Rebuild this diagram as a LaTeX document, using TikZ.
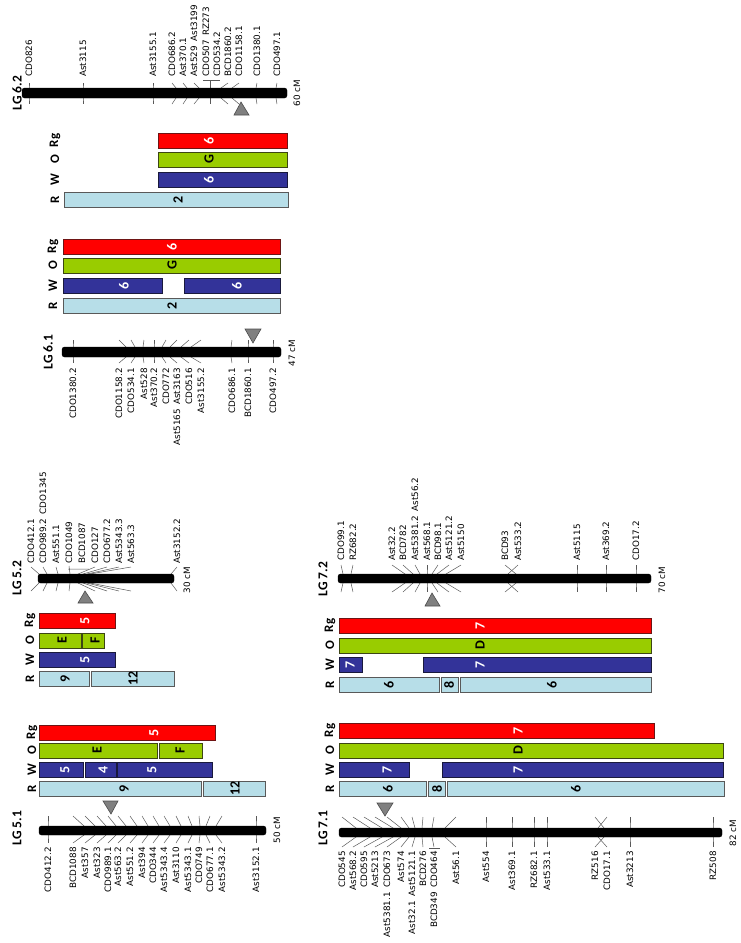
\documentclass[tikz,border=0pt]{standalone}
\usepackage{fontspec}
\setmainfont{DejaVu Sans}
\newfontfamily\carl{Carlito}
\definecolor{rgred}{HTML}{FF0000}
\definecolor{ogreen}{HTML}{99CC00}
\definecolor{wblue}{HTML}{333399}
\definecolor{rblue}{HTML}{B7DEE8}
\tikzset{
 mlab/.style={font=\fontsize{8.8}{10}\selectfont, rotate=90, inner sep=0pt},
 lglab/.style={font=\carl\bfseries\fontsize{13.5}{15}\selectfont, rotate=90, inner sep=0pt},
 rowlab/.style={font=\carl\bfseries\fontsize{13}{14}\selectfont, rotate=90, inner sep=0pt},
 barlab/.style={font=\carl\bfseries\fontsize{14}{15}\selectfont, rotate=90, inner sep=0pt},
 tick/.style={draw=black!65, line width=0.5pt},
 chromo/.style={fill=black, rounded corners=2.5pt},
 rgbar/.style={fill=rgred, draw={rgb,255:red,110;green,20;blue,20}, line width=0.7pt},
 rgbartxt/.style={text=white},
 obar/.style={fill=ogreen, draw={rgb,255:red,60;green,70;blue,20}, line width=0.7pt},
 obartxt/.style={text=black},
 wbar/.style={fill=wblue, draw={rgb,255:red,25;green,25;blue,60}, line width=0.7pt},
 wbartxt/.style={text=white},
 rbar/.style={fill=rblue, draw=black!65, line width=0.7pt},
 rbartxt/.style={text=black},
 cen/.style={fill=gray, draw=black!70, line width=0.6pt},
}
\newcommand\bx[7]{%
  \draw[#1] (#2,#4) rectangle (#3,#4+15);
  \node[barlab,#1txt] (#7) at (#5,#4+7.5) {#6};}
\begin{document}
\begin{tikzpicture}[x=1pt,y=-1pt]
\useasboundingbox (0,0) rectangle (740,943);

%% ================= LG 6.2 =================
\node[lglab] (lg62) at (17,93) {LG 6.2};
\foreach \lx/\px/\t [count=\i] in {29/29/CDO826, 83/83/Ast3115, 153/153/Ast3155.1,
   172/176/CDO686.2, 183/187/Ast370.1, 194/199/{Ast529\hspace{.5em}Ast3199},
   228/221/BCD1860.2, 239/232/CDO1158.1, 257/256/CDO1380.1, 277/276/CDO497.1}{
  \draw[tick] (\lx,83) -- (\px,88) -- (\px,98) -- (\lx,104);
  \node[mlab,anchor=west] (m62-\i) at (\lx,77) {\t};}
\node[mlab,anchor=west] (m62-a) at (206,77) {CDO507\hspace{.5em}RZ273};
\node[mlab,anchor=west] (m62-b) at (217,77) {CDO534.2};
\draw[tick] (203,80) -- (220,80) (210,80) -- (210,104);
\draw[chromo] (22,88) rectangle (287,98);
\node[mlab] (cm62) at (297,93) {60 cM};
\draw[cen] (241,102) -- (234,115) -- (249,115) -- cycle;

\foreach \t/\y [count=\i] in {Rg/140.5, O/159.5, W/179.5, R/199.5}
  \node[rowlab] (r62-\i) at (55,\y) {\t};
\bx{rgbar}{158}{287}{133}{209}{6}{b62rg}
\bx{obar}{158}{287}{152}{209}{G}{b62o}
\bx{wbar}{158}{287}{172}{209}{6}{b62w}
\bx{rbar}{64}{288}{192}{178}{2}{b62r}

%% ================= LG 6.1 =================
\foreach \t/\y [count=\i] in {Rg/246.5, O/265.5, W/285.5, R/305.5}
  \node[rowlab] (r61-\i) at (53,\y) {\t};
\bx{rgbar}{63}{280}{239}{172}{6}{b61rg}
\bx{obar}{63}{280}{258}{172}{G}{b61o}
\bx{wbar}{63}{162}{278}{124}{6}{b61w1}
\bx{wbar}{184}{280}{278}{237}{6}{b61w2}
\bx{rbar}{63}{280}{298}{172}{2}{b61r}

\node[lglab] (lg61) at (48,352) {LG 6.1};
\foreach \lx/\px/\t [count=\i] in {73/73/CDO1380.2, 119/126/CDO1158.2, 131/135/CDO534.1,
   144/143/Ast528, 154/154/Ast370.2, 166/162/CDO772, 177/170/{Ast5165\hspace{.5em}Ast3163},
   189/181/CDO516, 201/191/Ast3155.2, 232/231/CDO686.1, 248/248/BCD1860.1, 273/273/CDO497.2}{
  \draw[tick] (\lx,340) -- (\px,347) -- (\px,357) -- (\lx,363);
  \node[mlab,anchor=east] (m61-\i) at (\lx,368) {\t};}
\draw[chromo] (62,347) rectangle (281,357);
\node[mlab] (cm61) at (292,353) {47 cM};
\draw[cen] (253,343) -- (245,329) -- (261,329) -- cycle;

%% ================= LG 5.2 =================
\node[lglab] (lg52) at (17,578) {LG 5.2};
\foreach \lx/\px/\t [count=\i] in {31/39/CDO412.1, 43/47/{CDO989.2\hspace{.5em}CDO1345},
   56/58/Ast551.1, 95/78/CDO127, 107/83/CDO677.2, 119/87/Ast5343.3,
   131/90/Ast563.3, 177/171/Ast3152.2}{
  \draw[tick] (\lx,567) -- (\px,574) -- (\px,583) -- (\lx,591);
  \node[mlab,anchor=west] (m52-\i) at (\lx,564) {\t};}
\node[mlab,anchor=west] (m52-a) at (69,564) {CDO1049};
\node[mlab,anchor=west] (m52-b) at (82,564) {BCD1087};
\draw[tick] (68,569) -- (89,569) (69,566) -- (70,574) -- (70,583) -- (69,591);
\draw[chromo] (38,574) rectangle (174,583);
\node[mlab] (cm52) at (187,580) {30 cM};
\draw[cen] (85,591) -- (78,603) -- (93,603) -- cycle;

\foreach \t/\y [count=\i] in {Rg/620.5, O/640.5, W/659.5, R/678.5}
  \node[rowlab] (r52-\i) at (30,\y) {\t};
\bx{rgbar}{39}{115}{613}{85}{5}{b52rg}
\bx{obar}{39}{81}{633}{62}{E}{b52o1}
\bx{obar}{82}{104}{633}{95}{F}{b52o2}
\bx{wbar}{39}{115}{652}{85}{5}{b52w}
\bx{rbar}{39}{89}{671}{65}{9}{b52r1}
\bx{rbar}{91}{174}{671}{133}{12}{b52r2}

%% ================= LG 5.1 =================
\foreach \t/\y [count=\i] in {Rg/732.5, O/750.5, W/769.5, R/788.5}
  \node[rowlab] (r51-\i) at (32,\y) {\t};
\bx{rgbar}{39}{215}{725}{154}{5}{b51rg}
\bx{obar}{39}{157}{743}{97}{E}{b51o1}
\bx{obar}{159}{202}{743}{180}{F}{b51o2}
\bx{wbar}{39}{83}{762}{65}{5}{b51w1}
\bx{wbar}{85}{116}{762}{103}{4}{b51w2}
\bx{wbar}{117}{212}{762}{152}{5}{b51w3}
\bx{rbar}{39}{201}{781}{124}{9}{b51r1}
\bx{rbar}{203}{265}{781}{235}{12}{b51r2}

\node[lglab] (lg51) at (17,828) {LG 5.1};
\foreach \lx/\px/\t [count=\i] in {48/48/CDO412.2, 73/84/BCD1088, 85/95/Ast357, 97/106/Ast323,
   108/116/CDO989.1, 118/126/Ast563.2, 130/137/Ast551.2, 142/148/Ast394, 153/159/CDO344,
   164/170/Ast5343.4, 176/181/Ast3110, 188/192/Ast5343.1, 199/200/CDO749,
   210/206/CDO677.1, 222/216/Ast5343.2, 256/256/Ast3152.1}{
  \draw[tick] (\lx,816) -- (\px,826) -- (\px,835) -- (\lx,843);
  \node[mlab,anchor=east] (m51-\i) at (\lx,847) {\t};}
\draw[chromo] (39,826) rectangle (266,835);
\node[mlab] (cm51) at (277,830) {50 cM};
\draw[cen] (111,814) -- (103,801) -- (118,801) -- cycle;

%% ================= LG 7.2 =================
\node[lglab] (lg72) at (323,579) {LG 7.2};
\foreach \lx/\px/\t [count=\i] in {341/343/CDO99.1, 353/351/RZ682.2, 392/405/Ast32.2,
   403/413/BCD782, 415/420/{Ast5381.2\hspace{.5em}Ast56.2}, 427/427/Ast568.1,
   438/432/BCD98.1, 449/437/Ast5121.2, 461/446/Ast5150, 505/516/BCD93, 518/508/Ast533.2,
   577/577/Ast5115, 606/606/Ast369.2, 636/636/CDO17.2}{
  \draw[tick] (\lx,565) -- (\px,574) -- (\px,583) -- (\lx,592);
  \node[mlab,anchor=west] (m72-\i) at (\lx,561) {\t};}
\draw[chromo] (338,574) rectangle (651,583);
\node[mlab] (cm72) at (662,580) {70 cM};
\draw[cen] (432,593) -- (425,606) -- (440,606) -- cycle;

\foreach \t/\y [count=\i] in {Rg/625.5, O/645.5, W/664.5, R/684.5}
  \node[rowlab] (r72-\i) at (330,\y) {\t};
\bx{rgbar}{339}{651}{618}{480}{7}{b72rg}
\bx{obar}{339}{651}{638}{480}{D}{b72o}
\bx{wbar}{339}{362}{657}{350}{7}{b72w1}
\bx{wbar}{423}{651}{657}{480}{7}{b72w2}
\bx{rbar}{339}{439}{677}{389}{6}{b72r1}
\bx{rbar}{441}{458}{677}{449}{8}{b72r2}
\bx{rbar}{460}{651}{677}{552}{6}{b72r3}

%% ================= LG 7.1 =================
\foreach \t/\y [count=\i] in {Rg/730.5, O/750.5, W/769.5, R/788.5}
  \node[rowlab] (r71-\i) at (330,\y) {\t};
\bx{rgbar}{339}{654}{723}{518}{7}{b71rg}
\bx{obar}{339}{723}{743}{518}{D}{b71o}
\bx{wbar}{339}{409}{762}{387}{7}{b71w1}
\bx{wbar}{442}{723}{762}{518}{7}{b71w2}
\bx{rbar}{339}{426}{781}{388}{6}{b71r1}
\bx{rbar}{428}{445}{781}{437}{8}{b71r2}
\bx{rbar}{447}{724}{781}{576}{6}{b71r3}

\node[lglab] (lg71) at (323,828) {LG 7.1};
\foreach \lx/\px/\t [count=\i] in {342/356/CDO545, 353/370/Ast568.2, 364/382/CDO595,
   375/393/Ast5213, 387/401/{Ast5381.1\hspace{.5em}CDO673}, 401/409/Ast574,
   412/415/{Ast32.1\hspace{.5em}Ast5121.1}, 423/422/BCD276, 434/432/{BCD349\hspace{.5em}CDO464},
   456/445/Ast56.1, 486/486/Ast554, 512/512/Ast369.1, 534/534/RZ682.1, 547/547/Ast533.1,
   595/604/RZ516, 607/598/CDO17.1, 630/630/Ast3213, 713/713/RZ508}{
  \draw[tick] (\lx,817) -- (\px,828) -- (\px,837) -- (\lx,847);
  \node[mlab,anchor=east] (m71-\i) at (\lx,851) {\t};}
\draw[tick] (429,848) -- (440,848);
\draw[chromo] (339,828) rectangle (722,837);
\node[mlab] (cm71) at (733,833) {82 cM};
\draw[cen] (385,816) -- (377,803) -- (393,803) -- cycle;
\end{tikzpicture}
\end{document}
